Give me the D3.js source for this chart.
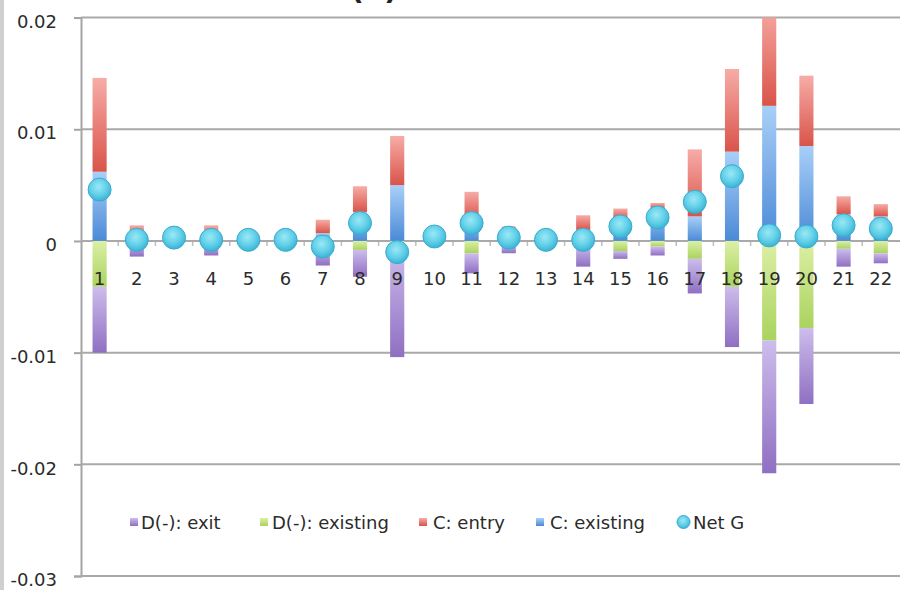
<!DOCTYPE html>
<html>
<head>
<meta charset="utf-8">
<script src="https://cdn.jsdelivr.net/npm/d3@7/dist/d3.min.js"></script>
<style>
  html, body { margin: 0; padding: 0; background: #fff; }
  svg { display: block; font-family: "DejaVu Sans", "Liberation Sans", sans-serif; }
</style>
</head>
<body>
<svg id="chart" width="900" height="590"></svg>
<script>
// Category labels (regions / industries 1..22)
const categories = ["1","2","3","4","5","6","7","8","9","10","11","12","13","14","15","16","17","18","19","20","21","22"];

// Positive contributions
const cExisting = [0.0062,0.0004,0.0004,0.0003,0.0002,0.0002,0.0007,0.0026,0.0050,0.0003,0.0020,0.0006,0.0002,0.0010,0.0020,0.0029,0.0022,0.0080,0.0121,0.0085,0.0024,0.0022];
const cEntry    = [0.0084,0.0010,0.0004,0.0011,0.0002,0.0002,0.0012,0.0023,0.0044,0.0003,0.0024,0.0007,0.0001,0.0013,0.0009,0.0005,0.0060,0.0074,0.0092,0.0063,0.0016,0.0011];

// Negative contributions
const dExisting = [-0.0041,-0.0002,-0.0002,-0.0003,-0.0001,-0.0001,-0.0006,-0.0008,-0.0005,-0.0001,-0.0011,-0.0003,-0.0001,-0.0004,-0.0009,-0.0005,-0.0016,-0.0041,-0.0089,-0.0078,-0.0007,-0.0011];
const dExit     = [-0.0059,-0.0012,-0.0003,-0.0010,-0.0002,-0.0002,-0.0016,-0.0024,-0.0099,-0.0001,-0.0018,-0.0008,-0.0001,-0.0019,-0.0007,-0.0008,-0.0031,-0.0054,-0.0119,-0.0068,-0.0016,-0.0009];

// Net growth
const netG = [0.0046,0.0001,0.0003,0.0001,0.0001,0.0001,-0.0005,0.0016,-0.0010,0.0004,0.0016,0.0003,0.0001,0.0001,0.0013,0.0021,0.0035,0.0058,0.0005,0.0004,0.0014,0.0011];

// Axis ticks
const yTicks = [0.02, 0.01, 0, -0.01, -0.02, -0.03];
const yTickLabels = ["0.02", "0.01", "0", "-0.01", "-0.02", "-0.03"];

// Legend entries
const legendLabels = ["D(-): exit", "D(-): existing", "C: entry", "C: existing", "Net G"];

const svg = d3.select("#chart");
const W = 900, H = 590;
const plotLeft = 81, plotRight = 899.4, plotTop = 17.6, plotBottom = 576;

const x = d3.scaleBand().domain(categories).range([plotLeft, plotRight])
  .paddingInner(0.62).paddingOuter(0.31);
const y = d3.scaleLinear().domain([-0.03, 0.02]).range([plotBottom, plotTop]);

const defs = svg.append("defs");
function vGrad(id, c0, c1) {
  const g = defs.append("linearGradient").attr("id", id)
    .attr("x1", 0).attr("y1", 0).attr("x2", 0).attr("y2", 1);
  g.append("stop").attr("offset", "0%").attr("stop-color", c0);
  g.append("stop").attr("offset", "100%").attr("stop-color", c1);
}
vGrad("gExit", "#cdbdec", "#8f6fc2");
vGrad("gDexist", "#dcefa6", "#aad35e");
vGrad("gEntry", "#f7aca7", "#d9544a");
vGrad("gCexist", "#a9cff8", "#4b8ad6");
const rg = defs.append("radialGradient").attr("id", "gNet")
  .attr("cx", "45%").attr("cy", "38%").attr("r", "60%");
rg.append("stop").attr("offset", "0%").attr("stop-color", "#9be8f6");
rg.append("stop").attr("offset", "60%").attr("stop-color", "#62d0e8");
rg.append("stop").attr("offset", "100%").attr("stop-color", "#3db5d6");

defs.append("clipPath").attr("id", "plotClip")
  .append("rect").attr("x", plotLeft).attr("y", plotTop)
  .attr("width", W - plotLeft).attr("height", plotBottom - plotTop);

// left frame strip
svg.append("rect").attr("x", 0).attr("y", 0).attr("width", 4).attr("height", H).attr("fill", "#cfcfcf");

// title, mostly above the visible area
svg.append("text").attr("x", 374).attr("y", -1).attr("text-anchor", "middle")
  .attr("font-size", 30).attr("font-weight", "bold").attr("fill", "#222").text("(a)");

// gridlines + value axis
const yAxis = d3.axisLeft(y).tickValues(yTicks)
  .tickFormat((d, i) => yTickLabels[i]).tickSize(7).tickPadding(17);
const gy = svg.append("g").attr("transform", `translate(${plotLeft},0)`).call(yAxis);
gy.select(".domain").attr("stroke", "#a4a4a4").attr("stroke-width", 2);
gy.selectAll(".tick line").attr("stroke", "#a4a4a4").attr("stroke-width", 2);
gy.selectAll(".tick text").attr("font-size", 18).attr("fill", "#2b2b2b")
  .attr("font-family", "DejaVu Sans").attr("dy", "0.9em").attr("y", -6.5);

svg.append("g").selectAll("line").data(yTicks.filter(d => d !== 0)).join("line")
  .attr("x1", plotLeft).attr("x2", W).attr("y1", d => y(d)).attr("y2", d => y(d))
  .attr("stroke", "#a9a9a9").attr("stroke-width", 2);

// zero line with category ticks
svg.append("line").attr("x1", plotLeft).attr("x2", W).attr("y1", y(0)).attr("y2", y(0))
  .attr("stroke", "#a9a9a9").attr("stroke-width", 2);
svg.append("g").selectAll("line").data(categories.slice(1)).join("line")
  .attr("x1", d => x(d) - x.step() * x.paddingInner() / 2)
  .attr("x2", d => x(d) - x.step() * x.paddingInner() / 2)
  .attr("y1", y(0) + 1).attr("y2", y(0) + 5)
  .attr("stroke", "#bdbdbd").attr("stroke-width", 1.5);

// stacked bars
const rows = categories.map((c, i) => ({
  cat: c, cExisting: cExisting[i], cEntry: cEntry[i], dExisting: dExisting[i], dExit: dExit[i]
}));
const keys = ["cExisting", "cEntry", "dExisting", "dExit"];
const fills = { cExisting: "url(#gCexist)", cEntry: "url(#gEntry)", dExisting: "url(#gDexist)", dExit: "url(#gExit)" };
const stacked = d3.stack().keys(keys).offset(d3.stackOffsetDiverging)(rows);

const barG = svg.append("g").attr("clip-path", "url(#plotClip)");
stacked.forEach(layer => {
  barG.append("g").selectAll("rect").data(layer).join("rect")
    .attr("x", d => x(d.data.cat))
    .attr("width", x.bandwidth())
    .attr("y", d => y(Math.max(d[0], d[1])))
    .attr("height", d => Math.abs(y(d[0]) - y(d[1])))
    .attr("fill", fills[layer.key]);
});

// category labels
svg.append("g").selectAll("text").data(categories).join("text")
  .attr("x", d => x(d) + x.bandwidth() / 2)
  .attr("y", y(0) + 44)
  .attr("text-anchor", "middle").attr("font-size", 18).attr("fill", "#2b2b2b")
  .text(d => d);

// net growth markers
svg.append("g").selectAll("circle").data(netG).join("circle")
  .attr("cx", (d, i) => x(categories[i]) + x.bandwidth() / 2)
  .attr("cy", d => y(d))
  .attr("r", 11.5)
  .attr("fill", "url(#gNet)")
  .attr("stroke", "#38acd0").attr("stroke-width", 1);

// legend: swatch and text positions along one row
const legFills = ["url(#gExit)", "url(#gDexist)", "url(#gEntry)", "url(#gCexist)", "url(#gNet)"];
const legSwatchX = [130, 260, 419, 536, 677];
const legTextX = [141, 272, 433, 550, 693];
const ly = 522;
const leg = svg.append("g").attr("font-size", 18).attr("fill", "#2b2b2b");
legendLabels.forEach((lab, i) => {
  if (i < 4) {
    leg.append("rect").attr("x", legSwatchX[i]).attr("y", ly - 4).attr("width", 8).attr("height", 8)
      .attr("fill", legFills[i]);
  } else {
    leg.append("circle").attr("cx", legSwatchX[i] + 6.5).attr("cy", ly).attr("r", 6.5)
      .attr("fill", legFills[i]).attr("stroke", "#38acd0").attr("stroke-width", 1);
  }
  leg.append("text").attr("x", legTextX[i]).attr("y", ly + 7).text(lab);
});
</script>
</body>
</html>
